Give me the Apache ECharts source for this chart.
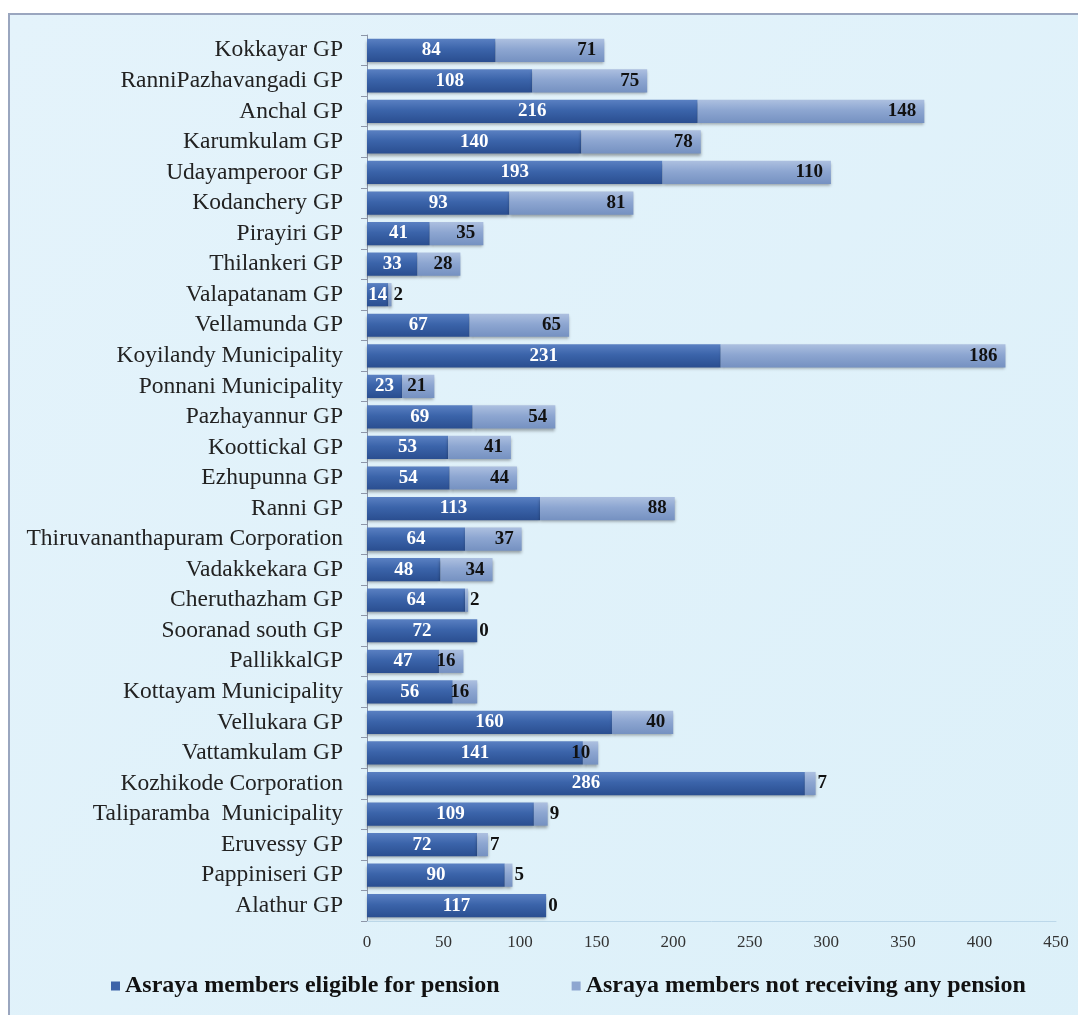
<!DOCTYPE html>
<html>
<head>
<meta charset="utf-8">
<script src="https://cdn.jsdelivr.net/npm/echarts@6/dist/echarts.min.js"></script>
<style>
  html, body { margin: 0; padding: 0; background: #ffffff; }
  #chart { width: 1078px; height: 1015px; }
</style>
</head>
<body>
<div id="chart"></div>
<script>
// Local bodies, listed top to bottom
const categories = [
  'Kokkayar GP', 'RanniPazhavangadi GP', 'Anchal GP', 'Karumkulam GP', 'Udayamperoor GP',
  'Kodanchery GP', 'Pirayiri GP', 'Thilankeri GP', 'Valapatanam GP', 'Vellamunda GP',
  'Koyilandy Municipality', 'Ponnani Municipality', 'Pazhayannur GP', 'Koottickal GP',
  'Ezhupunna GP', 'Ranni GP', 'Thiruvananthapuram Corporation', 'Vadakkekara GP',
  'Cheruthazham GP', 'Sooranad south GP', 'PallikkalGP', 'Kottayam Municipality',
  'Vellukara GP', 'Vattamkulam GP', 'Kozhikode Corporation', 'Taliparamba  Municipality',
  'Eruvessy GP', 'Pappiniseri GP', 'Alathur GP'
];

// Asraya members eligible for pension
const eligible = [84, 108, 216, 140, 193, 93, 41, 33, 14, 67, 231, 23, 69, 53, 54, 113, 64, 48, 64, 72, 47, 56, 160, 141, 286, 109, 72, 90, 117];

// Asraya members not receiving any pension
const notReceiving = [71, 75, 148, 78, 110, 81, 35, 28, 2, 65, 186, 21, 54, 41, 44, 88, 37, 34, 2, 0, 16, 16, 40, 10, 7, 9, 7, 5, 0];

const seriesNames = ['Asraya members eligible for pension', 'Asraya members not receiving any pension'];

const serif = '"Liberation Serif", "DejaVu Serif", serif';

const darkFill = new echarts.graphic.LinearGradient(0, 0, 0, 1, [
  { offset: 0, color: '#5a80c2' },
  { offset: 0.45, color: '#3b64aa' },
  { offset: 1, color: '#2a4e90' }
]);
const lightFill = new echarts.graphic.LinearGradient(0, 0, 0, 1, [
  { offset: 0, color: '#adc0e0' },
  { offset: 0.45, color: '#8da6d1' },
  { offset: 1, color: '#7591c1' }
]);

// Small segments carry their number just past the bar end
const notReceivingData = notReceiving.map(v => ({
  value: v,
  label: v < 10 ? { position: 'right', distance: 2 } : { position: 'insideRight', distance: 8 }
}));

const chart = echarts.init(document.getElementById('chart'), null, { renderer: 'canvas' });

chart.setOption({
  backgroundColor: '#ffffff',
  animation: false,
  graphic: [{
    type: 'rect',
    z: -10,
    silent: true,
    shape: { x: 9, y: 14, width: 1100, height: 1040 },
    style: {
      fill: new echarts.graphic.LinearGradient(0, 0, 1, 1, [
        { offset: 0, color: '#e4f3fb' },
        { offset: 1, color: '#dcf0f9' }
      ]),
      stroke: '#9aa6bf',
      lineWidth: 2
    }
  }],
  grid: { left: 367, right: 22, top: 35, bottom: 94, containLabel: false },
  xAxis: {
    type: 'value',
    min: 0,
    max: 450,
    interval: 50,
    axisLine: { show: true, lineStyle: { color: '#bcd8ea', width: 1 } },
    axisTick: { show: false },
    splitLine: { show: false },
    axisLabel: { color: '#333', fontFamily: serif, fontSize: 17, margin: 13 }
  },
  yAxis: {
    type: 'category',
    data: categories,
    inverse: true,
    axisLine: { show: true, lineStyle: { color: '#8d96a8', width: 1 } },
    axisTick: { show: true, length: 6, lineStyle: { color: '#8d96a8' } },
    axisLabel: { interval: 0, color: '#222', fontFamily: serif, fontSize: 23.5, margin: 24 }
  },
  legend: {
    bottom: 12,
    left: 106,
    itemWidth: 9,
    itemHeight: 9,
    itemGap: 72,
    icon: 'rect',
    textStyle: { color: '#111', fontFamily: serif, fontSize: 24, fontWeight: 'bold' },
    data: [
      { name: seriesNames[0], itemStyle: { color: '#3d63a8' } },
      { name: seriesNames[1], itemStyle: { color: '#8ea6d0' } }
    ]
  },
  series: [
    {
      name: seriesNames[0],
      type: 'bar',
      stack: 'total',
      barCategoryGap: '24%',
      data: eligible,
      itemStyle: {
        color: darkFill,
        shadowColor: 'rgba(0,0,0,0.35)',
        shadowBlur: 3,
        shadowOffsetY: 2
      },
      label: {
        show: true,
        position: 'inside',
        color: '#ffffff',
        fontFamily: serif,
        fontWeight: 'bold',
        fontSize: 19
      }
    },
    {
      name: seriesNames[1],
      type: 'bar',
      stack: 'total',
      barCategoryGap: '24%',
      data: notReceivingData,
      itemStyle: {
        color: lightFill,
        shadowColor: 'rgba(0,0,0,0.35)',
        shadowBlur: 3,
        shadowOffsetY: 2
      },
      label: {
        show: true,
        color: '#111111',
        fontFamily: serif,
        fontWeight: 'bold',
        fontSize: 19
      }
    }
  ]
});
</script>
</body>
</html>
